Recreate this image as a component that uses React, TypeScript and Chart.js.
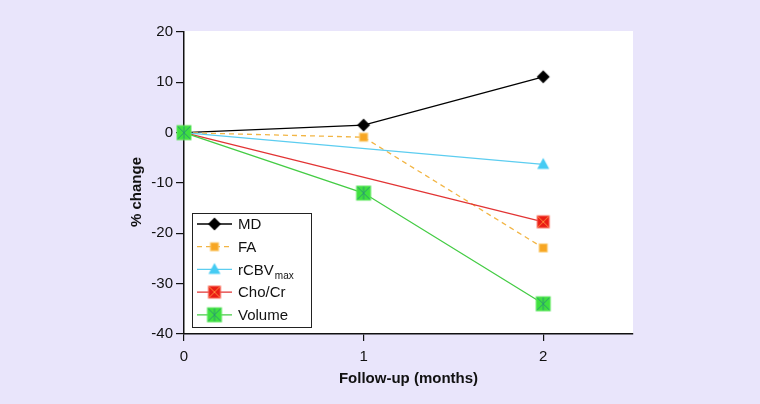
import React, { useEffect, useRef } from "react";
import { Chart, registerables } from "chart.js";

Chart.register(...registerables);

const months = [0, 1, 2];
const mdValues: (number | null)[] = [0, 1.5, 11.1];
const faValues: (number | null)[] = [0, -0.9, -22.9];
const rcbvValues: (number | null)[] = [0, null, -6.3];
const choCrValues: (number | null)[] = [0, null, -17.7];
const volumeValues: (number | null)[] = [0, -12, -34];
const yTicks = [20, 10, 0, -10, -20, -30, -40];
const xTicks = [0, 1, 2];

const FONT = "'Liberation Sans', Arial, Helvetica, sans-serif";

function makeMarker(kind: string): HTMLCanvasElement {
  const s = 18;
  const c = document.createElement("canvas");
  c.width = s;
  c.height = s;
  const g = c.getContext("2d")!;
  const m = s / 2;
  if (kind === "diamond") {
    const r = 6.5;
    g.fillStyle = "#000";
    g.beginPath();
    g.moveTo(m, m - r);
    g.lineTo(m + r, m);
    g.lineTo(m, m + r);
    g.lineTo(m - r, m);
    g.closePath();
    g.fill();
  } else if (kind === "square") {
    const h = 4;
    g.fillStyle = "#f7a623";
    g.fillRect(m - h, m - h, 2 * h, 2 * h);
    g.strokeStyle = "#fbc86a";
    g.lineWidth = 1;
    g.strokeRect(m - h, m - h, 2 * h, 2 * h);
  } else if (kind === "triangle") {
    g.fillStyle = "#45cbf3";
    g.beginPath();
    g.moveTo(m, m - 6.5);
    g.lineTo(m + 6, m + 4.5);
    g.lineTo(m - 6, m + 4.5);
    g.closePath();
    g.fill();
  } else if (kind === "redx") {
    const h = 6;
    g.fillStyle = "#ea1c14";
    g.fillRect(m - h, m - h, 2 * h, 2 * h);
    g.strokeStyle = "#ff8a3a";
    g.lineWidth = 1;
    g.beginPath();
    g.moveTo(m - h, m - h);
    g.lineTo(m + h, m + h);
    g.moveTo(m + h, m - h);
    g.lineTo(m - h, m + h);
    g.stroke();
    g.strokeStyle = "#f86a5a";
    g.strokeRect(m - h, m - h, 2 * h, 2 * h);
  } else if (kind === "greenx") {
    const h = 7;
    g.fillStyle = "#3fe03f";
    g.fillRect(m - h, m - h, 2 * h, 2 * h);
    g.strokeStyle = "#2a9a70";
    g.lineWidth = 1;
    g.beginPath();
    g.moveTo(m - h, m - h);
    g.lineTo(m + h, m + h);
    g.moveTo(m + h, m - h);
    g.lineTo(m - h, m + h);
    g.moveTo(m, m - h);
    g.lineTo(m, m + h);
    g.stroke();
    g.strokeStyle = "#5ce85c";
    g.strokeRect(m - h, m - h, 2 * h, 2 * h);
  }
  return c;
}

export default function App() {
  const ref = useRef<HTMLCanvasElement | null>(null);

  useEffect(() => {
    document.body.style.margin = "0";
    const canvas = ref.current!;
    const markers = {
      md: makeMarker("diamond"),
      fa: makeMarker("square"),
      rcbv: makeMarker("triangle"),
      cho: makeMarker("redx"),
      vol: makeMarker("greenx"),
    };
    const toPts = (vals: (number | null)[]) =>
      months.map((x, i) => ({ x, y: vals[i] })).filter((p) => p.y !== null);

    const series = [
      { label: "MD", data: mdValues, color: "#000000", marker: markers.md, dash: [] as number[], width: 1.3 },
      { label: "FA", data: faValues, color: "#f2b544", marker: markers.fa, dash: [5, 4], width: 1.3 },
      { label: "rCBV", sub: "max", data: rcbvValues, color: "#5ccdf0", marker: markers.rcbv, dash: [], width: 1.3 },
      { label: "Cho/Cr", data: choCrValues, color: "#e23434", marker: markers.cho, dash: [], width: 1.3 },
      { label: "Volume", data: volumeValues, color: "#44cc44", marker: markers.vol, dash: [], width: 1.3 },
    ];

    const bgPlugin = {
      id: "bg",
      beforeDraw(chart: any) {
        const { ctx, chartArea } = chart;
        ctx.save();
        ctx.fillStyle = "#e9e5fb";
        ctx.fillRect(0, 0, chart.width, chart.height);
        ctx.fillStyle = "#ffffff";
        ctx.fillRect(chartArea.left, chartArea.top - 1, chartArea.right - chartArea.left, chartArea.bottom - chartArea.top + 1);
        ctx.restore();
      },
    };

    const overlayPlugin = {
      id: "overlay",
      afterDraw(chart: any) {
        const { ctx, chartArea } = chart;
        ctx.save();
        ctx.fillStyle = "#111";
        ctx.font = `bold 15px ${FONT}`;
        ctx.textAlign = "center";
        ctx.textBaseline = "middle";
        ctx.fillText("Follow-up (months)", (chartArea.left + chartArea.right) / 2, 379);
        ctx.translate(137, 192);
        ctx.rotate(-Math.PI / 2);
        ctx.fillText("% change", 0, 0);
        ctx.restore();

        ctx.save();
        const bx = 192, by = 213, bw = 119, bh = 114;
        ctx.fillStyle = "#ffffff";
        ctx.fillRect(bx, by, bw, bh);
        ctx.strokeStyle = "#222";
        ctx.lineWidth = 1;
        ctx.strokeRect(bx + 0.5, by + 0.5, bw, bh);
        series.forEach((s, i) => {
          const y = 224 + i * 22.7;
          ctx.strokeStyle = s.color;
          ctx.lineWidth = s.width;
          ctx.setLineDash(s.dash);
          ctx.beginPath();
          ctx.moveTo(197, y);
          ctx.lineTo(232, y);
          ctx.stroke();
          ctx.setLineDash([]);
          const mk = s.marker;
          ctx.drawImage(mk, 214.5 - mk.width / 2, y - mk.height / 2);
          ctx.fillStyle = "#111";
          ctx.font = `15px ${FONT}`;
          ctx.textAlign = "left";
          ctx.textBaseline = "middle";
          ctx.fillText(s.label, 238, y + 1);
          if ((s as any).sub) {
            const w = ctx.measureText(s.label).width;
            ctx.font = `10px ${FONT}`;
            ctx.fillText((s as any).sub, 238 + w + 1, y + 7);
          }
        });
        ctx.restore();
      },
    };

    const chart = new Chart(canvas, {
      type: "line",
      data: {
        datasets: series.map((s, i) => ({
          label: s.label,
          data: toPts(s.data) as any,
          borderColor: s.color,
          backgroundColor: s.color,
          borderWidth: s.width,
          borderDash: s.dash,
          pointStyle: s.marker as any,
          pointRadius: 9,
          pointHoverRadius: 9,
          tension: 0,
          clip: false as any,
          order: series.length - i,
        })),
      },
      options: {
        animation: false,
        responsive: false,
        devicePixelRatio: 1,
        layout: { padding: { top: 32, right: 127, left: 0, bottom: 0 } },
        plugins: { legend: { display: false }, tooltip: { enabled: false } },
        scales: {
          x: {
            type: "linear",
            min: 0,
            max: 2.5,
            afterBuildTicks: (axis: any) => {
              axis.ticks = xTicks.map((v) => ({ value: v }));
            },
            afterFit: (axis: any) => {
              axis.height = 70;
            },
            grid: {
              drawOnChartArea: false,
              drawTicks: true,
              tickLength: 7,
              color: "#111",
              lineWidth: 1.2,
            },
            border: { display: true, color: "#111", width: 1.5 },
            ticks: {
              color: "#111",
              font: { family: FONT, size: 15 },
              padding: 7,
              maxRotation: 0,
              callback: (v: any) => String(v),
            },
          },
          y: {
            type: "linear",
            min: -40,
            max: 20,
            afterBuildTicks: (axis: any) => {
              axis.ticks = yTicks.map((v) => ({ value: v }));
            },
            afterFit: (axis: any) => {
              axis.width = 184;
            },
            grid: {
              drawOnChartArea: false,
              drawTicks: true,
              tickLength: 8,
              color: "#111",
              lineWidth: 1.2,
            },
            border: { display: true, color: "#111", width: 1.5 },
            ticks: {
              color: "#111",
              font: { family: FONT, size: 15 },
              padding: 3,
              callback: (v: any) => String(v),
            },
          },
        },
      },
      plugins: [bgPlugin, overlayPlugin],
    });
    return () => chart.destroy();
  }, []);

  return (
    <div style={{ width: 760, height: 404, background: "#e9e5fb" }}>
      <canvas ref={ref} width={760} height={404} style={{ display: "block", width: 760, height: 404 }} />
    </div>
  );
}
